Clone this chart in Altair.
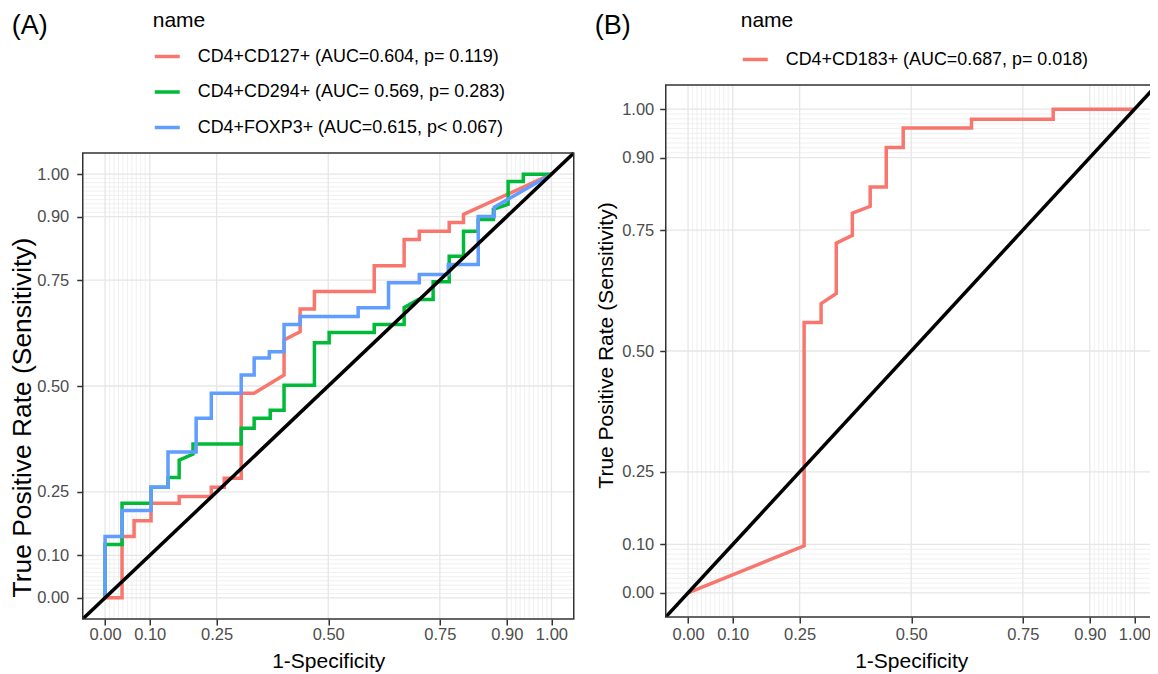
import altair as alt
import pandas as pd

FONT = "Liberation Sans"

# ---------------- Panel A data ----------------
a_names = ["CD4+CD127+ (AUC=0.604, p= 0.119)",
           "CD4+CD294+ (AUC= 0.569, p= 0.283)",
           "CD4+FOXP3+ (AUC=0.615, p< 0.067)"]
a_colors = ["#F8766D", "#00BA38", "#619CFF"]

cd127_fpr = [0, 0.038, 0.038, 0.065, 0.065, 0.103, 0.103, 0.166, 0.166, 0.238, 0.238,
             0.267, 0.267, 0.305, 0.305, 0.334, 0.401, 0.401, 0.437, 0.437, 0.469, 0.469,
             0.603, 0.603, 0.670, 0.670, 0.704, 0.704, 0.771, 0.771, 0.803, 0.803, 1.0]
cd127_tpr = [0, 0, 0.145, 0.145, 0.182, 0.182, 0.223, 0.223, 0.239, 0.239, 0.261,
             0.261, 0.282, 0.282, 0.483, 0.483, 0.526, 0.609, 0.628, 0.682, 0.682, 0.723,
             0.723, 0.784, 0.784, 0.846, 0.846, 0.865, 0.865, 0.886, 0.886, 0.905, 1.0]

cd294_fpr = [0, 0, 0.038, 0.038, 0.103, 0.103, 0.141, 0.141, 0.166, 0.166, 0.197, 0.197,
             0.305, 0.305, 0.334, 0.334, 0.370, 0.370, 0.401, 0.401, 0.469, 0.469,
             0.502, 0.502, 0.603, 0.603, 0.670, 0.670, 0.702, 0.735, 0.735, 0.771, 0.771,
             0.803, 0.803, 0.836, 0.836, 0.870, 0.870, 0.903, 0.903, 0.937, 0.937, 1.0]
cd294_tpr = [0, 0.126, 0.126, 0.223, 0.223, 0.261, 0.261, 0.284, 0.284, 0.325, 0.339, 0.363,
             0.363, 0.400, 0.400, 0.424, 0.424, 0.443, 0.443, 0.502, 0.502, 0.602,
             0.602, 0.626, 0.626, 0.645, 0.645, 0.685, 0.704, 0.704, 0.746, 0.746, 0.806,
             0.806, 0.865, 0.865, 0.893, 0.893, 0.917, 0.929, 0.983, 0.983, 1.0, 1.0]

foxp3_fpr = [0, 0, 0.038, 0.038, 0.103, 0.103, 0.141, 0.141, 0.204, 0.204, 0.238, 0.238,
             0.305, 0.305, 0.334, 0.334, 0.368, 0.368, 0.401, 0.401, 0.437, 0.437,
             0.567, 0.567, 0.635, 0.635, 0.704, 0.704, 0.769, 0.769, 0.836, 0.836,
             0.872, 0.872, 1.0]
foxp3_tpr = [0, 0.145, 0.145, 0.206, 0.206, 0.261, 0.261, 0.344, 0.344, 0.424, 0.424, 0.483,
             0.483, 0.526, 0.526, 0.566, 0.566, 0.581, 0.581, 0.645, 0.645, 0.664,
             0.664, 0.685, 0.685, 0.744, 0.744, 0.763, 0.763, 0.787, 0.787, 0.900,
             0.900, 0.922, 1.0]

# ---------------- Panel B data ----------------
b_names = ["CD4+CD183+ (AUC=0.687, p= 0.018)"]
b_colors = ["#F8766D"]

cd183_fpr = [0, 0.260, 0.260, 0.298, 0.298, 0.332, 0.332, 0.368, 0.368, 0.408,
             0.408, 0.444, 0.444, 0.482, 0.482, 0.635, 0.635, 0.818, 0.818, 1.0]
cd183_tpr = [0, 0.097, 0.559, 0.559, 0.598, 0.619, 0.723, 0.739, 0.785, 0.799,
             0.839, 0.839, 0.921, 0.921, 0.961, 0.961, 0.979, 0.979, 1.0, 1.0]

# ---------------- axes / grid ----------------
axis_domain = [-0.05, 1.05]
major_breaks = [0, 0.1, 0.25, 0.5, 0.75, 0.9, 1]
minor_breaks = [0.01, 0.02, 0.03, 0.04, 0.05, 0.06, 0.07, 0.08, 0.09,
                0.91, 0.92, 0.93, 0.94, 0.95, 0.96, 0.97, 0.98, 0.99]


def roc_frame(names, series):
    rows = []
    for name, (fpr, tpr) in zip(names, series):
        for i, (fx, ty) in enumerate(zip(fpr, tpr)):
            rows.append({"name": name, "fpr": fx, "tpr": ty, "idx": i})
    return pd.DataFrame(rows)


def panel(df, names, colors, w, h, y_range, leg_x, leg_y, leg_tpad, label,
          ytitle_size, ytitle_x, ytitle_y, xtitle_y, xlab_pad, ylab_pad):
    xs = alt.Scale(domain=axis_domain, nice=False, zero=False)
    ys = alt.Scale(domain=axis_domain, nice=False, zero=False, range=y_range)
    xax = alt.Axis(values=major_breaks, format=".2f", title="1-Specificity",
                   titleFontSize=21, titleY=xtitle_y, titleBaseline="alphabetic",
                   labelPadding=xlab_pad, labelOverlap=False, labelFlush=False)
    yax = alt.Axis(values=major_breaks, format=".2f",
                   title="True Positive Rate (Sensitivity)",
                   titleFontSize=ytitle_size, titleX=ytitle_x, titleY=ytitle_y,
                   titleAngle=270, titleBaseline="middle", titleAlign="center",
                   labelPadding=ylab_pad, labelOverlap=False, labelFlush=False)

    lo, hi = axis_domain
    minor_df = pd.DataFrame({"v": minor_breaks, "lo": lo, "hi": hi})
    major_df = pd.DataFrame({"v": major_breaks, "lo": lo, "hi": hi})
    diag_df = pd.DataFrame({"fpr": axis_domain, "tpr": axis_domain})
    frame_df = pd.DataFrame({"lo": [lo], "hi": [hi]})

    gx_minor = alt.Chart(minor_df).mark_rule(color="#ececec", strokeWidth=0.8).encode(
        x=alt.X("v:Q", scale=xs, axis=xax),
        y=alt.Y("lo:Q", scale=ys, axis=yax), y2="hi:Q")
    gy_minor = alt.Chart(minor_df).mark_rule(color="#ececec", strokeWidth=0.8).encode(
        y=alt.Y("v:Q", scale=ys, axis=yax))
    gx_major = alt.Chart(major_df).mark_rule(color="#e6e6e6", strokeWidth=1.3).encode(
        x=alt.X("v:Q", scale=xs, axis=xax),
        y=alt.Y("lo:Q", scale=ys, axis=yax), y2="hi:Q")
    gy_major = alt.Chart(major_df).mark_rule(color="#e6e6e6", strokeWidth=1.3).encode(
        y=alt.Y("v:Q", scale=ys, axis=yax))

    curves = alt.Chart(df).mark_line(strokeWidth=3.5, clip=True).encode(
        x=alt.X("fpr:Q", scale=xs, axis=xax),
        y=alt.Y("tpr:Q", scale=ys, axis=yax),
        color=alt.Color("name:N", scale=alt.Scale(domain=names, range=colors),
                        legend=alt.Legend(orient="none", legendX=leg_x, legendY=leg_y,
                                          title="name", direction="vertical",
                                          titlePadding=leg_tpad)),
        order=alt.Order("idx:Q"),
    )

    diag = alt.Chart(diag_df).mark_line(color="black", strokeWidth=3.5, clip=True).encode(
        x=alt.X("fpr:Q", scale=xs, axis=xax),
        y=alt.Y("tpr:Q", scale=ys, axis=yax))

    frame = alt.Chart(frame_df).mark_rect(fillOpacity=0, stroke="#333333",
                                          strokeWidth=1.5).encode(
        x=alt.X("lo:Q", scale=xs, axis=xax), x2="hi:Q",
        y=alt.Y("lo:Q", scale=ys, axis=yax), y2="hi:Q")

    return alt.layer(gx_minor, gy_minor, gx_major, gy_major, curves, diag, frame).properties(
        width=w, height=h,
        title=alt.TitleParams(text=label, anchor="start", frame="group", dx=-71,
                              offset=-30, fontSize=27, fontWeight="normal",
                              font=FONT, color="black"))


dfA = roc_frame(a_names, [(cd127_fpr, cd127_tpr), (cd294_fpr, cd294_tpr),
                          (foxp3_fpr, foxp3_tpr)])
dfB = roc_frame(b_names, [(cd183_fpr, cd183_tpr)])

# panel A's group starts at the same height as panel B's plot; its plot frame sits lower
pA = panel(dfA, a_names, a_colors, 491, 534, [534, 68], 70, -75.5, 11.5, "(A)",
           26.4, -60, 332, 48, 1, 8)
pB = panel(dfB, b_names, b_colors, 491, 532, [532, 0], 75, -75.5, 14.5, "(B)",
           21, -59, 260, 50, 3, 6)

chart = alt.hconcat(pA, pB, spacing=18).resolve_scale(
    color="independent", x="independent", y="independent"
).properties(
    padding={"left": 0.75, "top": 1, "right": -9, "bottom": 0}
).configure_view(
    stroke="transparent"
).configure_axis(
    labelFont=FONT, labelFontSize=16.5, labelColor="#4d4d4d",
    titleFont=FONT, titleFontWeight="normal", titleColor="black",
    tickColor="#333333", tickWidth=1.5, tickSize=6, domain=False, grid=False
).configure_legend(
    titleFont=FONT, titleFontSize=21, titleFontWeight="normal", titleColor="black",
    labelFont=FONT, labelFontSize=17.9, labelColor="black", labelLimit=600,
    symbolType="stroke", symbolSize=625, symbolStrokeWidth=3.5, symbolOpacity=1,
    labelOffset=16, rowPadding=11.5, padding=0
)

chart.save("out.html", embed_options={"renderer": "svg", "actions": False})
